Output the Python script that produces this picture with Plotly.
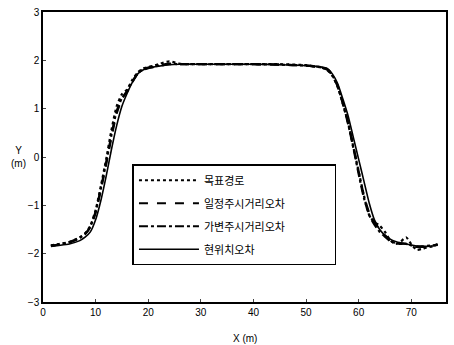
import plotly.graph_objects as go

x = [1.5, 3, 5, 7, 8, 9, 10, 11, 12, 13, 14, 15, 16, 17, 18, 19, 20, 22, 24, 26, 30, 35, 40, 45, 50,
     53, 54, 55, 56, 57, 58, 59, 60, 61, 62, 63, 64, 65, 66, 67, 68, 69, 70, 71, 72, 73, 74, 75]

target = [-1.83, -1.80, -1.76, -1.66, -1.58, -1.42, -1.10, -0.60, -0.05, 0.55, 1.05, 1.30, 1.40, 1.60, 1.75, 1.83,
          1.86, 1.92, 1.98, 1.93, 1.92, 1.92, 1.92, 1.92, 1.90,
          1.85, 1.80, 1.68, 1.45, 1.10, 0.70, 0.20, -0.30, -0.80, -1.20, -1.35, -1.42, -1.55, -1.72, -1.80,
          -1.75, -1.66, -1.80, -1.92, -1.90, -1.87, -1.85, -1.80]

const_la = [-1.84, -1.81, -1.77, -1.68, -1.60, -1.45, -1.15, -0.68, -0.15, 0.40, 0.90, 1.20, 1.35, 1.55, 1.72, 1.80,
            1.84, 1.88, 1.92, 1.92, 1.92, 1.92, 1.92, 1.91, 1.89,
            1.85, 1.82, 1.70, 1.48, 1.12, 0.72, 0.22, -0.30, -0.80, -1.15, -1.35, -1.50, -1.62, -1.72, -1.76,
            -1.78, -1.80, -1.82, -1.85, -1.86, -1.85, -1.84, -1.82]

var_la = [-1.84, -1.81, -1.76, -1.67, -1.59, -1.44, -1.13, -0.65, -0.12, 0.45, 0.95, 1.22, 1.37, 1.57, 1.73, 1.81,
          1.85, 1.89, 1.93, 1.92, 1.92, 1.92, 1.92, 1.91, 1.89,
          1.85, 1.81, 1.69, 1.46, 1.10, 0.68, 0.18, -0.35, -0.85, -1.20, -1.40, -1.55, -1.65, -1.74, -1.78,
          -1.80, -1.79, -1.83, -1.86, -1.85, -1.84, -1.83, -1.81]

current = [-1.85, -1.83, -1.80, -1.73, -1.66, -1.55, -1.30, -0.90, -0.40, 0.15, 0.65, 1.05, 1.32, 1.55, 1.72, 1.80,
           1.84, 1.88, 1.91, 1.92, 1.92, 1.92, 1.92, 1.91, 1.89,
           1.86, 1.83, 1.72, 1.52, 1.20, 0.85, 0.40, -0.05, -0.50, -0.95, -1.30, -1.50, -1.62, -1.70, -1.75,
           -1.78, -1.80, -1.82, -1.84, -1.85, -1.85, -1.84, -1.82]

names = ["목표경로", "일정주시거리오차", "가변주시거리오차", "현위치오차"]
x_ticks = [0, 10, 20, 30, 40, 50, 60, 70]
y_ticks = [-3, -2, -1, 0, 1, 2, 3]

fig = go.Figure()
series = [target, const_la, var_la, current]
styles = [dict(dash="dot", width=2.2), dict(dash="dash", width=2.2),
          dict(dash="dashdot", width=2.2), dict(dash="solid", width=1.6)]
pad = "\u00a0" * 18
for i, (nm, ys, st) in enumerate(zip(names, series, styles)):
    fig.add_trace(go.Scatter(x=x, y=ys, mode="lines", name=nm + (pad if i == 1 else ""),
                             legendgroup=str(i),
                             line=dict(color="black", shape="spline", smoothing=0.6, **st)))

axis_font = dict(family="Liberation Sans", size=10, color="black")
fig.update_layout(
    width=454, height=345,
    margin=dict(l=43, r=6, t=7, b=43),
    paper_bgcolor="white", plot_bgcolor="white",
    font=dict(family="Noto Sans CJK KR", color="black"),
    showlegend=True,
    legend=dict(x=0.222, y=0.475, xanchor="left", yanchor="top",
                bordercolor="black", borderwidth=1.5, bgcolor="white",
                font=dict(family="Noto Sans CJK KR", size=11, color="black"),
                tracegroupgap=4, itemwidth=60),
    xaxis=dict(range=[0, 76.6], tickvals=x_ticks, ticks="inside", ticklen=3,
               showline=True, mirror=True, linecolor="black", linewidth=1.5,
               showgrid=False, zeroline=False, tickfont=axis_font),
    yaxis=dict(range=[-3, 3], tickvals=y_ticks, ticks="inside", ticklen=3,
               showline=True, mirror=True, linecolor="black", linewidth=1.5,
               showgrid=False, zeroline=False, tickfont=axis_font),
    annotations=[
        dict(text="X (m)", x=0.5, y=-0.1, xref="paper", yref="paper", showarrow=False,
             xanchor="center", yanchor="top", font=dict(family="Liberation Sans", size=10)),
        dict(text="Y<br>(m)", x=-0.06, y=0.5, xref="paper", yref="paper", showarrow=False,
             xanchor="center", yanchor="middle", font=dict(family="Liberation Sans", size=10)),
    ],
)

fig.write_html("out.html")
